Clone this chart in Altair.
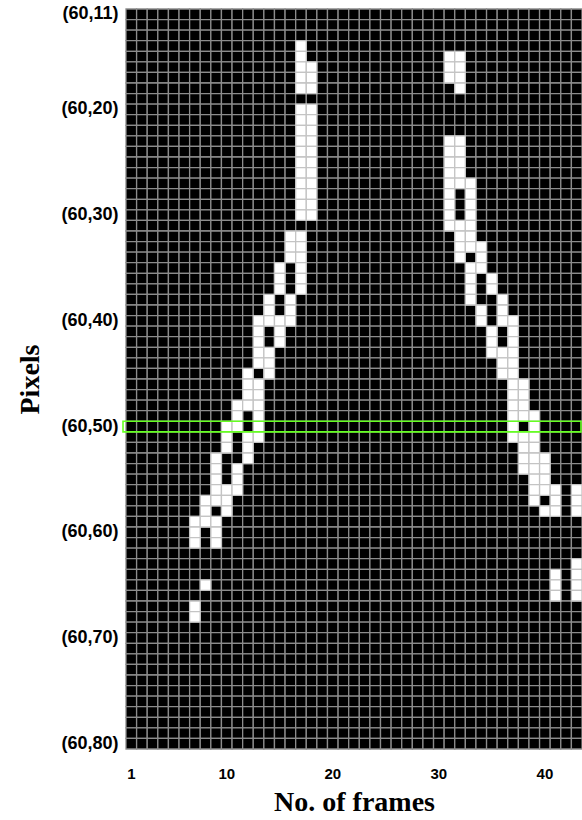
import altair as alt
import pandas as pd

# ---- data ----
frames = list(range(1, 44))          # No. of frames (columns)
pixel_rows = list(range(11, 81))     # pixel rows (60,11) ... (60,80)
x_tick_values = [1, 10, 20, 30, 40]
y_tick_values = [11, 20, 30, 40, 50, 60, 70, 80]
highlight_row = [50]

# white (detected) cells per pixel row: row -> frames
left_trail = {
    14: [17], 15: [17], 16: [17, 18], 17: [17, 18], 18: [17, 18],
    20: [17, 18], 21: [17, 18], 22: [17, 18], 23: [17, 18], 24: [17, 18],
    25: [17, 18], 26: [17, 18], 27: [17, 18], 28: [17, 18], 29: [17, 18],
    30: [17, 18],
    32: [16, 17], 33: [16, 17], 34: [16, 17],
    35: [15, 17], 36: [15, 17], 37: [15, 17],
    38: [14, 16], 39: [14, 16],
    40: [13, 14, 15, 16],
    41: [13, 15], 42: [13, 15],
    43: [13, 14], 44: [13, 14],
    45: [12, 14],
    46: [12, 13], 47: [12, 13],
    48: [11, 12, 13],
    49: [11, 13],
    50: [10, 11, 13],
    51: [10, 12, 13],
    52: [10, 12],
    53: [9, 12],
    54: [9, 11], 55: [9, 11],
    56: [9, 10, 11],
    57: [8, 9, 10],
    58: [8, 10],
    59: [7, 8, 9],
    60: [7, 9], 61: [7, 9],
    65: [8],
    67: [7], 68: [7],
}
right_trail = {
    15: [31, 32], 16: [31, 32], 17: [31, 32],
    18: [32],
    23: [31, 32], 24: [31, 32], 25: [31, 32], 26: [31, 32],
    27: [31, 32, 33],
    28: [31, 33], 29: [31, 33], 30: [31, 33],
    31: [31, 32, 33],
    32: [32, 33],
    33: [32, 33, 34],
    34: [32, 34],
    35: [33, 34],
    36: [33, 35], 37: [33, 35],
    38: [33, 36],
    39: [34, 36],
    40: [34, 36, 37],
    41: [35, 37], 42: [35, 37],
    43: [35, 36, 37],
    44: [36, 37], 45: [36, 37],
    46: [37, 38], 47: [37, 38], 48: [37, 38],
    49: [37, 38, 39],
    50: [37, 39],
    51: [37, 38, 39],
    52: [38, 39],
    53: [38, 39, 40], 54: [38, 39, 40],
    55: [39, 40],
    56: [39, 40, 41, 43],
    57: [39, 41, 43],
    58: [40, 41, 43],
    63: [43],
    64: [41, 43], 65: [41, 43], 66: [41, 43],
}

cells = []
for r in pixel_rows:
    on = set(left_trail.get(r, [])) | set(right_trail.get(r, []))
    for f in frames:
        cells.append({"frame": f, "row": r, "on": 1 if f in on else 0})
df = pd.DataFrame(cells).sort_values("on", kind="stable")

hl_df = pd.DataFrame({"row": highlight_row})

W, H = 456, 740

x_enc = alt.X(
    "frame:O",
    scale=alt.Scale(domain=frames, paddingInner=0, paddingOuter=0),
    axis=alt.Axis(
        values=x_tick_values, labelAngle=0, ticks=False, domain=False, grid=False,
        labelFont="Liberation Sans", labelFontWeight="bold", labelFontSize=15,
        labelColor="black", labelPadding=17,
        title="No. of frames", titleFont="Liberation Serif", titleFontSize=28,
        titleFontWeight="bold", titleColor="black", titlePadding=7,
    ),
)
y_enc = alt.Y(
    "row:O",
    scale=alt.Scale(domain=pixel_rows, paddingInner=0, paddingOuter=0),
    axis=alt.Axis(
        values=y_tick_values, labelExpr="'(60,' + datum.value + ')'",
        ticks=False, domain=False, grid=False,
        labelFont="Liberation Sans", labelFontWeight="bold", labelFontSize=18,
        labelColor="black", labelPadding=8,
        title="Pixels", titleFont="Liberation Serif", titleFontSize=28,
        titleFontWeight="bold", titleColor="black", titlePadding=16,
    ),
)

grid = alt.Chart(df).mark_rect(strokeWidth=1.3).encode(
    x=x_enc,
    y=y_enc,
    color=alt.Color("on:O", scale=alt.Scale(domain=[0, 1], range=["#000000", "#ffffff"]), legend=None),
    stroke=alt.condition(alt.datum.on == 1, alt.value("#c4c4c4"), alt.value("#8c8c8c")),
)

highlight = alt.Chart(hl_df).mark_rect(fillOpacity=0, stroke="#66ff22", strokeWidth=1.6).encode(
    y=alt.Y("row:O"),
    x=alt.value(-3),
    x2=alt.value(W - 1),
)

chart = alt.layer(grid, highlight).properties(
    width=W, height=H,
    padding={"left": 126, "top": 9, "right": 0, "bottom": 71},
    autosize="none",
    background="white",
).configure_view(strokeWidth=0)

chart.save("out.html", embed_options={"renderer": "svg", "actions": False})
